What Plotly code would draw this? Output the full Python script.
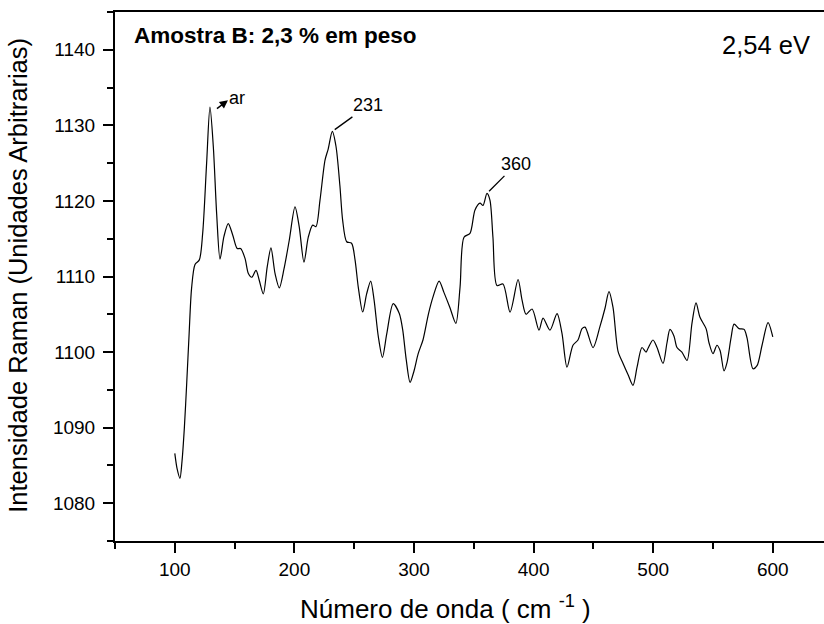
import plotly.graph_objects as go

# Raman spectrum, sample B (2,3 % em peso), 2,54 eV
wavenumber = [
    100, 102, 104.3, 106, 108, 110, 112, 114, 116.9, 120.5, 123.3, 126.6, 129.4, 132.2, 135,
    137.8, 141.1, 144.7, 148.4, 152.2, 155, 158.7, 161.5, 164.3, 167.9, 170.6, 174, 177.3,
    180.4, 183.8, 187.4, 191.3, 195.7, 200.5, 204, 208, 211.6, 215.3, 218, 221.4, 225.6,
    228.3, 231.7, 234.8, 238.1, 240.3, 243.7, 247.8, 250.7, 253.4, 257.1, 260.4, 263.8,
    266.6, 270.2, 273.6, 277.2, 282.6, 287.7, 290.5, 293.5, 296.7, 300, 303.5, 307.5, 312,
    315.9, 321, 325, 330, 335, 338.5, 341.8, 346.8, 351, 355.2, 357.7, 361, 363.5, 366,
    369.4, 374.4, 380.3, 387, 390.3, 393.7, 398.7, 404.5, 407.9, 413.7, 419.6, 423.7, 427.9,
    432.9, 437.1, 440.5, 443, 449.7, 455.5, 459.7, 463, 466.4, 470.6, 474.8, 479, 483.1,
    486.5, 490.6, 494, 495.7, 499.8, 503.2, 508.2, 511.5, 514, 517.4, 519.9, 524, 528.3,
    532.4, 535.8, 539.1, 544.2, 546.7, 550, 553.3, 555.9, 559.2, 561.7, 565.1, 567.6, 571.8,
    576, 578.4, 583.4, 586.8, 591, 596, 600,
]
intensity = [
    1086.6, 1084.5, 1083.3, 1085.5, 1090, 1096, 1102.5, 1108.4, 1111.6, 1112.2, 1115.7,
    1125.0, 1132.4, 1127.2, 1118.3, 1112.3, 1115.3, 1117.0, 1115.5, 1113.7, 1113.7, 1112.4,
    1110.4, 1109.9, 1110.8, 1109.5, 1107.7, 1111.3, 1113.8, 1110.4, 1108.5, 1111.0, 1114.8,
    1119.2, 1116.6, 1111.9, 1115.2, 1116.8, 1116.6, 1120.1, 1125.4, 1126.9, 1129.2, 1127.2,
    1121.9, 1117.5, 1114.6, 1114.4, 1112.2, 1108.6, 1105.3, 1107.7, 1109.4, 1106.9, 1102.0,
    1099.3, 1102.4, 1106.4, 1105.1, 1103, 1099, 1096.0, 1097.5, 1099.8, 1101.6, 1105,
    1107.3, 1109.4, 1107.9, 1105.9, 1103.8, 1108.6, 1115.2, 1115.7, 1118.8, 1119.7, 1119.4,
    1121.0, 1120.1, 1115.2, 1108.8, 1109.0, 1105.3, 1109.6, 1106.9, 1105.0, 1105.7, 1102.9,
    1104.5, 1102.9, 1105.1, 1102.5, 1098.0, 1100.9, 1101.6, 1103.1, 1103.3, 1100.6, 1103.4,
    1105.8, 1108.0, 1105.9, 1100.1, 1098.5, 1097.0, 1095.6, 1098.0, 1100.6, 1100.0, 1100.5,
    1101.6, 1100.6, 1098.5, 1101.2, 1103.0, 1102.1, 1100.6, 1100.0, 1098.9, 1103.8, 1106.5,
    1104.6, 1103.1, 1101.2, 1099.8, 1100.9, 1100.2, 1097.5, 1098.6, 1101.9, 1103.7, 1103.1,
    1103.0, 1101.9, 1097.8, 1098.2, 1100.9, 1103.9, 1102.0,
]

# labelled peaks (indices into the arrays)
peak_labels = ["ar", "231", "360"]
peak_index = [12, 42, 77]

x_range = [50, 642.8]
y_range = [1075, 1145]
x_ticks = [100, 200, 300, 400, 500, 600]
y_ticks = [1080, 1090, 1100, 1110, 1120, 1130, 1140]

FONT = "Arial, Liberation Sans, sans-serif"

fig = go.Figure()
fig.add_trace(go.Scatter(
    x=wavenumber, y=intensity, mode="lines",
    line=dict(color="black", width=1.2, shape="spline", smoothing=0.8),
    showlegend=False, hoverinfo="x+y",
))

axis_common = dict(
    showgrid=False, zeroline=False, showline=True, linecolor="black", linewidth=2,
    ticks="outside", ticklen=10, tickwidth=2, tickcolor="black",
    tickfont=dict(family=FONT, size=19, color="black"),
)
fig.update_xaxes(
    range=x_range, tickvals=x_ticks, mirror=True,
    minor=dict(ticks="outside", ticklen=6, tickwidth=2, tickcolor="black", dtick=50,
               tick0=50, showgrid=False),
    **axis_common,
)
fig.update_yaxes(
    range=y_range, tickvals=y_ticks, mirror=False,
    minor=dict(ticks="outside", ticklen=6, tickwidth=2, tickcolor="black", dtick=5,
               tick0=1075, showgrid=False),
    ticklabelstandoff=4,
    **axis_common,
)

annotations = [
    dict(text="Número de onda ( cm <sup>-1</sup> )", xref="paper", yref="paper",
         x=0.466, y=-0.125, xanchor="center", yanchor="middle", showarrow=False,
         font=dict(family=FONT, size=26, color="black")),
    dict(text="Intensidade Raman (Unidades Arbitrarias)", xref="paper", yref="paper",
         x=-0.137, y=0.503, xanchor="center", yanchor="middle", textangle=-90,
         showarrow=False, font=dict(family=FONT, size=25.5, color="black")),
    dict(text="<b>Amostra B: 2,3 % em peso</b>", xref="paper", yref="paper",
         x=0.0245, y=0.9565, xanchor="left", yanchor="middle", showarrow=False,
         font=dict(family=FONT, size=22.5, color="black")),
    dict(text="2,54 eV", xref="paper", yref="paper",
         x=0.918, y=0.9376, xanchor="center", yanchor="middle", showarrow=False,
         font=dict(family=FONT, size=25.5, color="black")),
]

# "ar": label plus an arrow pointing from the peak toward the label
ar_i = peak_index[0]
annotations.append(dict(
    text="ar", x=wavenumber[ar_i], y=intensity[ar_i], xref="x", yref="y",
    xshift=27, yshift=9, showarrow=False, font=dict(family=FONT, size=18, color="black")))
annotations.append(dict(
    text=" ", x=wavenumber[ar_i], y=intensity[ar_i], xref="x", yref="y",
    xshift=18, yshift=7, ax=-13, ay=10, showarrow=True, arrowhead=2, arrowsize=1.1,
    arrowwidth=1.5, arrowcolor="black", standoff=0, startstandoff=0,
    font=dict(family=FONT, size=2, color="rgba(0,0,0,0)")))

offsets = {"231": (36, -26), "360": (29, -29)}
for lab, idx in zip(peak_labels[1:], peak_index[1:]):
    ax, ay = offsets[lab]
    annotations.append(dict(
        text=lab, x=wavenumber[idx], y=intensity[idx], xref="x", yref="y",
        ax=ax, ay=ay, showarrow=True, arrowhead=0, arrowcolor="black", arrowwidth=1.3,
        standoff=3, font=dict(family=FONT, size=18, color="black")))

fig.update_layout(
    width=824, height=624,
    margin=dict(l=115, r=0, t=12, b=83),
    paper_bgcolor="white", plot_bgcolor="white",
    annotations=annotations,
)

fig.write_html("out.html")
